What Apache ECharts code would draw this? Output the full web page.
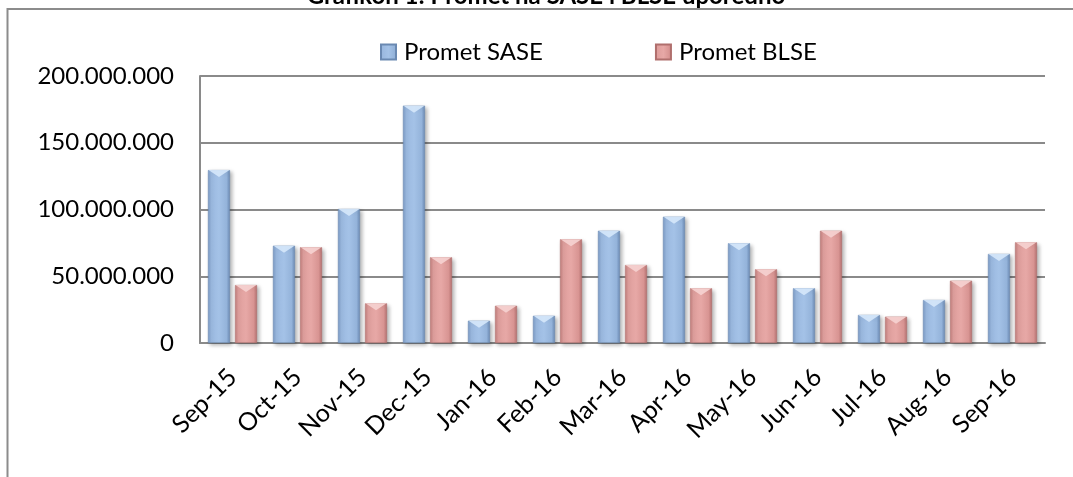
<!DOCTYPE html>
<html>
<head>
<meta charset="utf-8">
<script src="https://cdn.jsdelivr.net/npm/echarts@6/dist/echarts.min.js"></script>
<style>
  html, body { margin: 0; padding: 0; background: #fff; }
  #chart { width: 1073px; height: 477px; }
</style>
</head>
<body>
<div id="chart"></div>
<script>
// podaci sa grafikona
const months = ['Sep-15', 'Oct-15', 'Nov-15', 'Dec-15', 'Jan-16', 'Feb-16', 'Mar-16',
  'Apr-16', 'May-16', 'Jun-16', 'Jul-16', 'Aug-16', 'Sep-16']
const prometSASE = [129500000, 72900000, 100400000, 177800000, 16700000, 20400000, 84100000,
  94600000, 74700000, 41000000, 21000000, 32200000, 66700000]
const prometBLSE = [43400000, 71700000, 29700000, 64200000, 27900000, 77700000, 58400000,
  41000000, 55200000, 84100000, 19700000, 46700000, 75400000]
const yTicks = [0, 50000000, 100000000, 150000000, 200000000]

const chart = echarts.init(document.getElementById('chart'))

const fmt = v => String(v).replace(/\B(?=(\d{3})+(?!\d))/g, '.')

const grad = (stops) => new echarts.graphic.LinearGradient(0, 0, 1, 0,
  stops.map(([o, c]) => ({ offset: o, color: c })))

const blue = grad([[0, '#7b9bc6'], [0.15, '#9bb9e0'], [0.5, '#a4c2e7'], [0.85, '#94b3da'], [1, '#6a8ab4']])
const red = grad([[0, '#c27e7c'], [0.15, '#df9f9d'], [0.5, '#e7a8a6'], [0.85, '#d89492'], [1, '#b47170']])

const font = 'Lato, "Open Sans", sans-serif'

// svijetli "bevel" vrh stupca
const cap = (name, data, color, dx) => ({
  name: name,
  type: 'pictorialBar',
  data: data,
  symbol: 'path://M0,0 L10,0 L5,4 Z',
  symbolSize: [21, 7],
  symbolPosition: 'end',
  symbolOffset: [dx, 0],
  symbolClip: false,
  itemStyle: { color: color, opacity: 0.9 },
  z: 5,
  silent: true,
  legendHoverLink: false
})

const option = {
  animation: false,
  graphic: [
    {
      type: 'rect',
      shape: { x: 7.5, y: 9, width: 1100, height: 500 },
      style: { fill: 'none', stroke: '#8c8c8c', lineWidth: 2 },
      silent: true
    },
    {
      type: 'text',
      x: 546,
      y: 8,
      style: {
        text: 'Grafikon 1: Promet na SASE i BLSE uporedno',
        fill: '#000',
        font: 'bold 24px ' + font,
        textAlign: 'center',
        textVerticalAlign: 'bottom'
      },
      silent: true
    }
  ],
  legend: {
    data: ['Promet SASE', 'Promet BLSE'],
    left: 375,
    top: 35,
    itemWidth: 15,
    itemHeight: 15,
    itemGap: 112,
    icon: 'rect',
    textStyle: { fontFamily: font, fontSize: 24, color: '#000', padding: [0, 0, 0, 3] }
  },
  grid: { left: 200, right: 28, top: 76, bottom: 134 },
  xAxis: {
    type: 'category',
    data: months,
    axisLine: { lineStyle: { color: '#8a8a8a', width: 2 } },
    axisTick: { show: false },
    axisLabel: {
      rotate: 45,
      interval: 0,
      margin: 30,
      padding: [36, 0, 0, 0],
      fontFamily: font,
      fontSize: 25,
      color: '#000'
    }
  },
  yAxis: {
    type: 'value',
    min: yTicks[0],
    max: yTicks[yTicks.length - 1],
    interval: yTicks[1] - yTicks[0],
    axisLine: { show: true, lineStyle: { color: '#8a8a8a', width: 2 } },
    axisTick: { show: false },
    splitLine: { lineStyle: { color: '#8a8a8a', width: 2 } },
    axisLabel: {
      margin: 26,
      fontFamily: font,
      fontSize: 24,
      color: '#000',
      formatter: v => fmt(v)
    }
  },
  series: [
    {
      name: 'Promet SASE',
      type: 'bar',
      data: prometSASE,
      barWidth: 22,
      barGap: '23%',
      itemStyle: {
        color: blue,
        borderColor: '#6a89b2',
        borderWidth: 0.5,
        shadowColor: 'rgba(0,0,0,0.3)',
        shadowBlur: 4,
        shadowOffsetX: 2,
        shadowOffsetY: 2
      }
    },
    {
      name: 'Promet BLSE',
      type: 'bar',
      data: prometBLSE,
      barWidth: 22,
      itemStyle: {
        color: red,
        borderColor: '#b06f6d',
        borderWidth: 0.5,
        shadowColor: 'rgba(0,0,0,0.3)',
        shadowBlur: 4,
        shadowOffsetX: 2,
        shadowOffsetY: 2
      }
    },
    cap('capSASE', prometSASE, '#d6e8fb', -13.5),
    cap('capBLSE', prometBLSE, '#f6d3d2', 13.5)
  ]
}

chart.setOption(option)
</script>
</body>
</html>
